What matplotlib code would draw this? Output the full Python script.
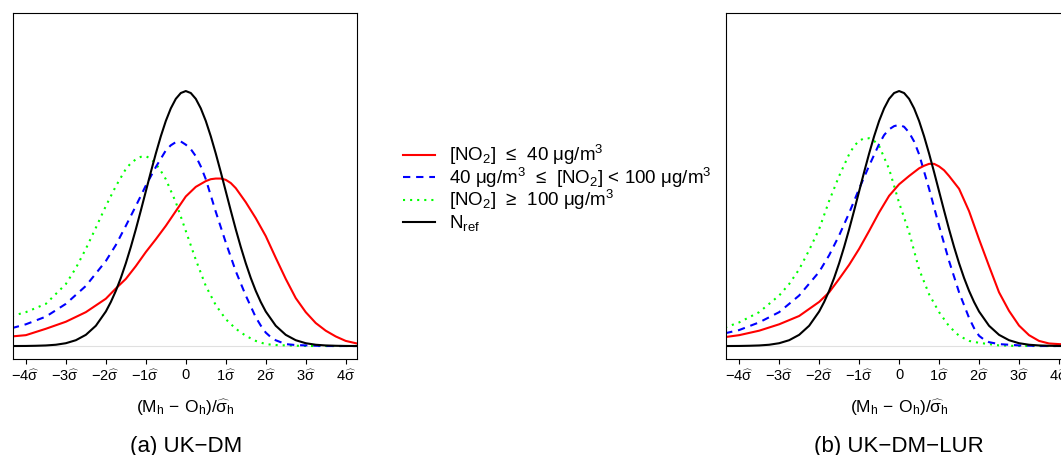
import matplotlib
matplotlib.use("Agg")
import matplotlib.pyplot as plt
from matplotlib.lines import Line2D

plt.rcParams['font.family'] = ['Liberation Sans', 'DejaVu Sans']
plt.rcParams['mathtext.fontset'] = 'custom'
plt.rcParams['mathtext.rm'] = 'Liberation Sans'
plt.rcParams['mathtext.it'] = 'Liberation Sans'
plt.rcParams['mathtext.bf'] = 'Liberation Sans:bold'
plt.rcParams['mathtext.default'] = 'rm'

# ---------------- data ----------------
# reference normal density (both panels)
x_ref = [-4.35, -4.0, -3.75, -3.5, -3.25, -3.0, -2.75, -2.5, -2.25, -2.0, -1.875, -1.75, -1.625, -1.5,
         -1.375, -1.25, -1.125, -1.0, -0.875, -0.75, -0.625, -0.5, -0.375, -0.25, -0.125, 0.0,
         0.125, 0.25, 0.375, 0.5, 0.625, 0.75, 0.875, 1.0, 1.125, 1.25, 1.375, 1.5, 1.625, 1.75,
         1.875, 2.0, 2.25, 2.5, 2.75, 3.0, 3.25, 3.5, 3.75, 4.0, 4.35]
y_ref = [0.0000, 0.0001, 0.0004, 0.0009, 0.0020, 0.0044, 0.0091, 0.0175, 0.0317, 0.0540, 0.0689, 0.0863, 0.1065, 0.1295,
         0.1550, 0.1826, 0.2119, 0.2420, 0.2721, 0.3011, 0.3281, 0.3521, 0.3718, 0.3867, 0.3958, 0.3989,
         0.3958, 0.3867, 0.3718, 0.3521, 0.3281, 0.3011, 0.2721, 0.2420, 0.2119, 0.1826, 0.1550, 0.1295, 0.1065, 0.0863,
         0.0689, 0.0540, 0.0317, 0.0175, 0.0091, 0.0044, 0.0020, 0.0009, 0.0004, 0.0001, 0.0000]

# panel (a) UK-DM
a_low_x = [-4.35, -4.0, -3.5, -3.0, -2.5, -2.0, -1.75, -1.5, -1.25, -1.0, -0.75, -0.5, -0.25, 0.0,
           0.25, 0.5, 0.625, 0.75, 0.875, 1.0, 1.125, 1.25, 1.5, 1.75, 2.0, 2.25, 2.5, 2.75, 3.0, 3.25,
           3.5, 3.75, 4.0, 4.35]
a_low_y = [0.015, 0.017, 0.027, 0.038, 0.053, 0.074, 0.090, 0.105, 0.125, 0.147, 0.167, 0.188, 0.211, 0.234,
           0.249, 0.258, 0.261, 0.262, 0.262, 0.260, 0.255, 0.247, 0.225, 0.200, 0.172, 0.138, 0.105, 0.075, 0.053, 0.036,
           0.024, 0.015, 0.008, 0.003]
a_mid_x = [-4.35, -4.0, -3.5, -3.0, -2.5, -2.0, -1.75, -1.5, -1.25, -1.0, -0.75, -0.5, -0.375, -0.25, -0.125, 0.0,
           0.125, 0.25, 0.375, 0.5, 0.75, 1.0, 1.25, 1.5, 1.75, 1.875, 2.0, 2.125, 2.25, 2.5, 2.75, 3.0, 3.5, 4.35]
a_mid_y = [0.028, 0.034, 0.046, 0.066, 0.094, 0.133, 0.158, 0.188, 0.219, 0.251, 0.280, 0.306, 0.314, 0.319, 0.320, 0.315,
           0.308, 0.297, 0.281, 0.261, 0.210, 0.162, 0.117, 0.079, 0.045, 0.032, 0.021, 0.014, 0.009, 0.003, 0.0015, 0.001, 0.000, 0.000]
a_high_x = [-4.35, -4.0, -3.5, -3.0, -2.75, -2.5, -2.25, -2.0, -1.75, -1.5, -1.375, -1.25, -1.125, -1.0, -0.875,
            -0.75, -0.625, -0.5, -0.25, 0.0, 0.25, 0.5, 0.75, 1.0, 1.25, 1.5, 1.75, 2.0, 2.25, 2.5, 3.0, 4.35]
a_high_y = [0.047, 0.053, 0.066, 0.097, 0.122, 0.152, 0.185, 0.219, 0.250, 0.277, 0.286, 0.292, 0.296, 0.297, 0.293,
            0.285, 0.274, 0.261, 0.225, 0.180, 0.135, 0.094, 0.064, 0.042, 0.027, 0.016, 0.008, 0.003, 0.0015, 0.001, 0.000, 0.000]

# panel (b) UK-DM-LUR
b_low_x = [-4.35, -4.0, -3.5, -3.0, -2.5, -2.0, -1.75, -1.5, -1.25, -1.0, -0.75, -0.5, -0.25, 0.0,
           0.25, 0.5, 0.625, 0.75, 0.875, 1.0, 1.125, 1.25, 1.5, 1.75, 2.0, 2.25, 2.5, 2.75, 3.0, 3.25,
           3.5, 3.75, 4.0, 4.35]
b_low_y = [0.014, 0.017, 0.024, 0.034, 0.047, 0.069, 0.084, 0.105, 0.127, 0.152, 0.180, 0.209, 0.235, 0.253,
           0.266, 0.278, 0.282, 0.285, 0.285, 0.281, 0.275, 0.266, 0.246, 0.211, 0.167, 0.125, 0.084, 0.055, 0.032, 0.017,
           0.008, 0.004, 0.003, 0.002]
b_mid_x = [-4.35, -4.0, -3.5, -3.0, -2.5, -2.0, -1.75, -1.5, -1.25, -1.0, -0.75, -0.5, -0.375, -0.25, -0.125, 0.0,
           0.125, 0.25, 0.375, 0.5, 0.75, 1.0, 1.25, 1.5, 1.75, 1.875, 2.0, 2.125, 2.25, 2.5, 3.0, 3.5, 4.35]
b_mid_y = [0.020, 0.025, 0.037, 0.053, 0.079, 0.116, 0.142, 0.173, 0.208, 0.246, 0.282, 0.316, 0.330, 0.339, 0.344, 0.346,
           0.343, 0.334, 0.320, 0.300, 0.246, 0.188, 0.133, 0.084, 0.044, 0.028, 0.016, 0.010, 0.006, 0.003, 0.001, 0.000, 0.000]
b_high_x = [-4.35, -4.0, -3.5, -3.0, -2.75, -2.5, -2.25, -2.0, -1.75, -1.5, -1.25, -1.125, -1.0, -0.875, -0.75,
            -0.625, -0.5, -0.25, 0.0, 0.25, 0.5, 0.75, 1.0, 1.25, 1.5, 1.75, 2.0, 2.25, 2.5, 3.0, 4.35]
b_high_y = [0.029, 0.037, 0.053, 0.079, 0.097, 0.120, 0.150, 0.183, 0.227, 0.266, 0.300, 0.313, 0.321, 0.325, 0.325,
            0.321, 0.313, 0.277, 0.224, 0.178, 0.120, 0.081, 0.053, 0.031, 0.016, 0.008, 0.005, 0.003, 0.001, 0.000, 0.000]

tick_vals = [-4, -3, -2, -1, 0, 1, 2, 3, 4]
tick_labels = [r'$-4\widehat{\sigma}$', r'$-3\widehat{\sigma}$', r'$-2\widehat{\sigma}$', r'$-1\widehat{\sigma}$',
               '0', r'$1\widehat{\sigma}$', r'$2\widehat{\sigma}$', r'$3\widehat{\sigma}$', r'$4\widehat{\sigma}$']
legend_labels = ['[NO$_2$]  \u2264  40 \u03bcg/m$^3$',
                 '40 \u03bcg/m$^3$  \u2264  [NO$_2$] < 100 \u03bcg/m$^3$',
                 '[NO$_2$]  \u2265  100 \u03bcg/m$^3$',
                 'N$_{\\mathrm{ref}}$']
titles = ['(a) UK\u2212DM', '(b) UK\u2212DM\u2212LUR']
xlab = r'$(\mathrm{M_h}\,-\,\mathrm{O_h})/\widehat{\sigma}_\mathrm{h}$'

# ---------------- figure ----------------
W, H = 1061, 456
fig = plt.figure(figsize=(W / 100, H / 100), dpi=100)

def fx(px):
    return px / W

def fy(py):
    return 1 - py / H

styles = dict(
    low=dict(color='#FF0000', lw=1.5, ls='-'),
    mid=dict(color='#0000FF', lw=1.5, ls=(0, (3.5, 2.8))),
    high=dict(color='#00FF00', lw=1.5, ls=(0, (1, 2.4))),
    ref=dict(color='black', lw=1.5, ls='-'),
)

panels = [
    (12.7, 185.8, (a_low_x, a_low_y), (a_mid_x, a_mid_y), (a_high_x, a_high_y)),
    (726.0, 899.0, (b_low_x, b_low_y), (b_mid_x, b_mid_y), (b_high_x, b_high_y)),
]
for i, (left_px, zero_px, low, mid, high) in enumerate(panels):
    width_px = 344.6
    ax = fig.add_axes([fx(left_px), fy(360), width_px / W, 346 / H])
    ax.set_xlim(-4.33, 4.29)
    ax.set_ylim(-0.0203, 0.521)
    ax.axhline(0, color='#e0e0e0', lw=0.8, zorder=0)
    ax.plot(*high, **styles['high'])
    ax.plot(*mid, **styles['mid'])
    ax.plot(*low, **styles['low'])
    ax.plot(x_ref, y_ref, **styles['ref'])
    for s in ax.spines.values():
        s.set_linewidth(0.8)
        s.set_color('black')
    ax.set_yticks([])
    ax.set_xticks(tick_vals)
    ax.set_xticklabels(tick_labels, fontsize=10.5)
    ax.tick_params(axis='x', length=3.6, width=0.8, pad=2.5)
    fig.text(fx(zero_px), fy(413), xlab, fontsize=12.5, ha='center', va='baseline')
    fig.text(fx(zero_px), fy(452), titles[i], fontsize=16, ha='center', va='baseline')

# manual legend
row_y = [155.5, 178, 200.5, 223]
for key, lab, ry in zip(['low', 'mid', 'high', 'ref'], legend_labels, row_y):
    fig.add_artist(Line2D([fx(403), fx(435)], [fy(ry), fy(ry)], transform=fig.transFigure, **styles[key]))
    fig.text(fx(449), fy(ry + 5.5), lab, fontsize=13.5, ha='left', va='baseline')

fig.savefig('out.png', dpi=100)
